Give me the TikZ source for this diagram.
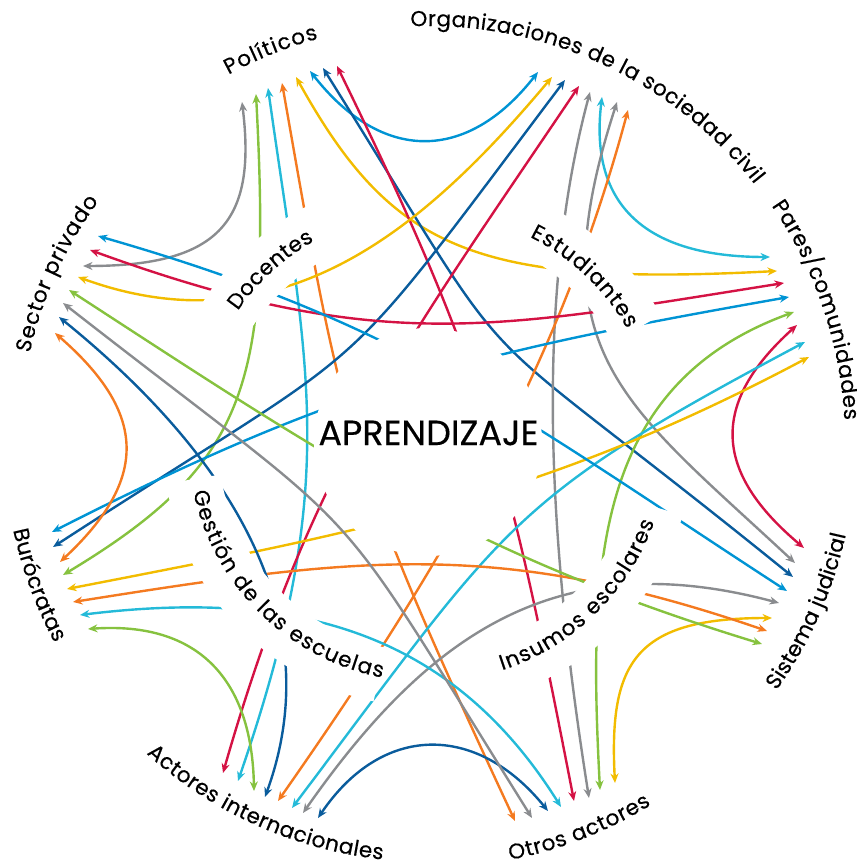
\documentclass[tikz,border=0pt]{standalone}
\usepackage{fontspec}
\setmainfont{Poppins}
\newfontfamily\ringfont{Poppins}[FakeBold=0.35]
\usetikzlibrary{arrows.meta,calc,decorations.text}
\definecolor{linegray}{RGB}{138,140,143}
\definecolor{linegreen}{RGB}{134,194,63}
\definecolor{linecyan}{RGB}{36,186,216}
\definecolor{lineorange}{RGB}{244,122,32}
\definecolor{lineyellow}{RGB}{242,188,0}
\definecolor{lineblue}{RGB}{0,148,212}
\definecolor{linedark}{RGB}{10,92,156}
\definecolor{linered}{RGB}{212,18,68}
\newcommand\ringstyle{\ringfont\fontsize{21.5}{21.5}\selectfont}

\begin{document}
\begin{tikzpicture}[x=1pt, y=1pt,
    link/.style={line width=2.4pt, >={Stealth[length=9.5pt,width=8pt]}, <->},
    hole/.style={white, line width=55pt},
    ringtext/.style={decorate, decoration={text along path, text align={fit to path}, text={|\ringstyle|#1}}},
    title/.style={font=\ringfont\fontsize{35}{35}\selectfont}
]
\useasboundingbox (0,0) rectangle (857,868);
\coordinate (ctr) at (428,426);

% Arrow ends: Politicos
\coordinate (pol1) at (242,766); \coordinate (pol2) at (256,774);
\coordinate (pol3) at (268,780); \coordinate (pol4) at (282,785);
\coordinate (pol5) at (296,791); \coordinate (pol6) at (310,797);
\coordinate (pol7) at (323,800); \coordinate (pol8) at (337,802);
% Organizaciones de la sociedad civil
\coordinate (osc1) at (538,796); \coordinate (osc2) at (552,791);
\coordinate (osc3) at (565,788); \coordinate (osc4) at (579,782);
\coordinate (osc5) at (590,776); \coordinate (osc6) at (602,771);
\coordinate (osc7) at (617,766); \coordinate (osc8) at (628,758);
% Pares/comunidades
\coordinate (par1) at (770,611); \coordinate (par2) at (777,597);
\coordinate (par3) at (784,585); \coordinate (par4) at (789,571);
\coordinate (par5) at (794,556); \coordinate (par6) at (797,543);
\coordinate (par7) at (805,526); \coordinate (par8) at (809,511);
% Sistema judicial
\coordinate (sju1) at (804,320); \coordinate (sju2) at (795,305);
\coordinate (sju3) at (793,291); \coordinate (sju4) at (787,277);
\coordinate (sju5) at (779,265); \coordinate (sju6) at (772,250);
\coordinate (sju7) at (767,237); \coordinate (sju8) at (762,224);
% Otros actores
\coordinate (otr1) at (615,85); \coordinate (otr2) at (600,78);
\coordinate (otr3) at (589,70); \coordinate (otr4) at (574,67);
\coordinate (otr5) at (561,61); \coordinate (otr6) at (548,57);
\coordinate (otr7) at (532,50); \coordinate (otr8) at (515,47);
% Actores internacionales
\coordinate (ain1) at (318,50); \coordinate (ain2) at (303,55);
\coordinate (ain3) at (292,60); \coordinate (ain4) at (278,67);
\coordinate (ain5) at (265,71); \coordinate (ain6) at (254,77);
\coordinate (ain7) at (238,87); \coordinate (ain8) at (223,95);
% Burocratas
\coordinate (bur1) at (88,239); \coordinate (bur2) at (80,253);
\coordinate (bur3) at (73,266); \coordinate (bur4) at (67,279);
\coordinate (bur5) at (63,293); \coordinate (bur6) at (60,306);
\coordinate (bur7) at (53,321); \coordinate (bur8) at (52,336);
% Sector privado
\coordinate (spr1) at (55,535); \coordinate (spr2) at (59,551);
\coordinate (spr3) at (63,565); \coordinate (spr4) at (69,578);
\coordinate (spr5) at (78,591); \coordinate (spr6) at (83,602);
\coordinate (spr7) at (90,618); \coordinate (spr8) at (98,632);

% Links between the actors
\draw[link, linegray]   (pol1) to[out=-83, in=0, out distance=118pt, in distance=139pt] (spr6);
\draw[link, linegreen]  (pol2) to[out=-87, in=31, out distance=288pt, in distance=219pt] (bur5);
\draw[link, linecyan]   (pol3) to[out=-82, in=71, out distance=291pt, in distance=317pt] (ain7);
\draw[link, lineorange] (pol4) to[out=-80, in=115, out distance=343pt, in distance=409pt] (otr8);
\draw[link, lineyellow] (pol5) to[out=-61, in=-177, out distance=198pt, in distance=302pt] (par2);
\draw[link, lineblue]   (pol6) to[out=-52, in=-128, distance=116pt] (osc1);
\draw[link, linedark]   (pol7) to[out=-58, in=141, out distance=406pt, in distance=455pt] (sju3);
\draw[link, linered]    (pol8) to[out=-64, in=101, out distance=339pt, in distance=346pt] (otr4);
\draw[link, lineyellow] (osc2) to[out=-130, in=-20, out distance=196pt, in distance=218pt] (spr5);
\draw[link, linedark]   (osc3) to[out=-127, in=33, out distance=401pt, in distance=402pt] (bur7);
\draw[link, linered]    (osc4) to[out=-124, in=74, out distance=312pt, in distance=317pt] (ain8);
\draw[link, linegray]   (osc5) to[out=-105, in=99, out distance=228pt, in distance=236pt] (otr3);
\draw[link, linecyan]   (osc6) to[out=-97, in=180, out distance=110pt, in distance=123pt] (par1);
\draw[link, linegray]   (osc7) to[out=-108, in=137, out distance=263pt, in distance=236pt] (sju2);
\draw[link, lineorange] (osc8) to[out=-105, in=55, out distance=274pt, in distance=272pt] (ain4);
\draw[link, linered]    (par3) to[out=-171, in=-20, out distance=294pt, in distance=308pt] (spr7);
\draw[link, lineblue]   (par4) to[out=-170, in=27, out distance=323pt, in distance=325pt] (bur8);
\draw[link, linegreen]  (par5) to[out=-160, in=93, out distance=214pt, in distance=223pt] (otr2);
\draw[link, linered]    (par6) to[out=-138, in=140, distance=118pt] (sju1);
\draw[link, linecyan]   (par7) to[out=-152, in=53, out distance=338pt, in distance=359pt] (ain3);
\draw[link, lineyellow] (par8) to[out=-152, in=11, out distance=301pt, in distance=302pt] (bur4);
\draw[link, lineblue]   (sju4) to[out=147, in=-16, out distance=321pt, in distance=322pt] (spr8);
\draw[link, linegray]   (sju5) to[out=165, in=55, out distance=232pt, in distance=216pt] (ain2);
\draw[link, lineyellow] (sju6) to[out=180, in=93, out distance=137pt, in distance=121pt] (otr1);
\draw[link, lineorange] (sju7) to[out=161, in=9, out distance=286pt, in distance=288pt] (bur3);
\draw[link, linegreen]  (sju8) to[out=163, in=-33, out distance=309pt, in distance=306pt] (spr4);
\draw[link, linecyan]   (otr5) to[out=122, in=7, out distance=213pt, in distance=209pt] (bur2);
\draw[link, linedark]   (otr6) to[out=129, in=56, distance=114pt] (ain1);
\draw[link, linegray]   (otr7) to[out=122, in=-38, out distance=404pt, in distance=408pt] (spr3);
\draw[link, linedark]   (ain5) to[out=70, in=-39, out distance=210pt, in distance=188pt] (spr2);
\draw[link, linegreen]  (ain6) to[out=91, in=4, out distance=110pt, in distance=112pt] (bur1);
\draw[link, lineorange] (bur6) to[out=43, in=-41, distance=122pt] (spr1);

% White gaps round the inner ring and the centre
\draw[hole] ($(ctr)+(149:237.5)$) arc[start angle=149, end angle=116, radius=237.5];
\draw[hole] ($(ctr)+(66:237.5)$) arc[start angle=66, end angle=28.5, radius=237.5];
\draw[hole] ($(ctr)+(-75:237.5)$) arc[start angle=-75, end angle=-16, radius=237.5];
\draw[hole] ($(ctr)+(-171:237.5)$) arc[start angle=-171, end angle=-101.8, radius=237.5];
\fill[white] (ctr) circle[radius=114];

% Outer ring
\path[ringtext=Sector privado] ($(ctr)+(167.4:408)$) arc[start angle=167.4, end angle=143.8, radius=408];
\path[ringtext=Políticos] ($(ctr)+(118.5:418)$) arc[start angle=118.5, end angle=105.2, radius=418];
\path[ringtext=Organizaciones de la sociedad civil] ($(ctr)+(92.4:416)$) arc[start angle=92.4, end angle=38.3, radius=416];
\path[ringtext=Pares/comunidades] ($(ctr)+(34.5:417)$) arc[start angle=34.5, end angle=3, radius=417];
\path[ringtext=Sistema judicial] ($(ctr)+(-35.5:428)$) arc[start angle=-35.5, end angle=-12.5, radius=428];
\path[ringtext=Otros actores] ($(ctr)+(-78.9:426)$) arc[start angle=-78.9, end angle=-58.4, radius=426];
\path[ringtext=Actores internacionales] ($(ctr)+(-132.1:420)$) arc[start angle=-132.1, end angle=-96.2, radius=420];
\path[ringtext=Burócratas] ($(ctr)+(-168:424)$) arc[start angle=-168, end angle=-151.7, radius=424];

% Inner ring
\path[ringtext=Docentes] ($(ctr)+(145.4:231)$) arc[start angle=145.4, end angle=119.5, radius=231];
\path[ringtext=Estudiantes] ($(ctr)+(63.6:229)$) arc[start angle=63.6, end angle=29.6, radius=229];
\path[ringtext=Insumos escolares] ($(ctr)+(-72:240)$) arc[start angle=-72, end angle=-19.5, radius=240];
\path[ringtext=Gestión de las escuelas] ($(ctr)+(-168:240)$) arc[start angle=-168, end angle=-101, radius=240];

% Centre
\node[title] (aprendizaje) at ($(ctr)+(0.5,9)$) {APRENDIZAJE};

\end{tikzpicture}
\end{document}
